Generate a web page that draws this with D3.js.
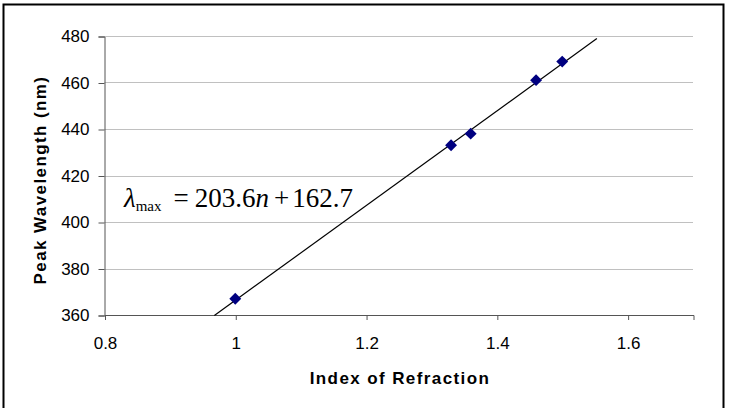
<!DOCTYPE html>
<html lang="en">
<head>
<meta charset="UTF-8">
<title>Peak Wavelength vs Index of Refraction</title>
<script src="https://d3js.org/d3.v7.min.js"></script>
<style>
    body { margin: 0; background: #fff; }
    .tick text { font-family: "Liberation Sans", Arial, sans-serif; font-size: 17px; fill: #000; }
    .axis-title { font-family: "Liberation Sans", Arial, sans-serif; font-size: 17px; font-weight: bold; letter-spacing: 1.4px; }
    .eq { font-family: "Liberation Serif", "Times New Roman", serif; fill: #000; }
</style>
</head>
<body>
<svg id="chart" width="736" height="408"></svg>
<script>
    // measured points (index of refraction, peak wavelength nm)
    const nValues = [1.0, 1.33, 1.36, 1.46, 1.5];
    const peakValues = [367, 433, 438, 461, 469];
    const xTicks = [0.8, 1, 1.2, 1.4, 1.6];
    const yTicks = [360, 380, 400, 420, 440, 460, 480];
    // trend line fit and the span it is drawn over
    const slope = 203.6, intercept = 162.7;
    const fitRange = [0.968, 1.553];

    const svg = d3.select("#chart");

    // outer frame
    svg.append("rect")
        .attr("x", 3.5).attr("y", 4.5)
        .attr("width", 720).attr("height", 420)
        .attr("fill", "none").attr("stroke", "#000").attr("stroke-width", 2);

    const x = d3.scaleLinear().domain([0.8, 1.7]).range([104.5, 693]);
    const y = d3.scaleLinear().domain([360, 480]).range([315, 36]);

    // gridlines
    svg.append("g")
        .selectAll("line")
        .data(yTicks.slice(1))
        .join("line")
        .attr("x1", x(0.8)).attr("x2", x(1.7))
        .attr("y1", d => Math.round(y(d)) + 0.5).attr("y2", d => Math.round(y(d)) + 0.5)
        .attr("stroke", "#c0c0c0");

    // y axis
    const yAxis = svg.append("g")
        .attr("transform", `translate(${x(0.8)},0.5)`)
        .call(d3.axisLeft(y).tickValues(yTicks).tickSize(6).tickPadding(9).tickFormat(d3.format("d")));
    yAxis.select(".domain").attr("stroke", "#555");
    yAxis.selectAll(".tick line").attr("stroke", "#555");

    // x axis
    const xAxis = svg.append("g")
        .attr("transform", `translate(0.5,${y(360)})`)
        .call(d3.axisBottom(x).tickValues(xTicks).tickSize(5).tickPadding(17).tickFormat(d => d));
    xAxis.select(".domain").attr("stroke", "#555");
    xAxis.selectAll(".tick line").attr("stroke", "#555");

    // trend line
    svg.append("line")
        .attr("x1", x(fitRange[0])).attr("y1", y(slope * fitRange[0] + intercept))
        .attr("x2", x(fitRange[1])).attr("y2", y(slope * fitRange[1] + intercept))
        .attr("stroke", "#000").attr("stroke-width", 1.2);

    // data markers (diamonds)
    svg.append("g")
        .selectAll("path")
        .data(nValues.map((n, i) => [n, peakValues[i]]))
        .join("path")
        .attr("transform", d => `translate(${x(d[0])},${y(d[1])})`)
        .attr("d", d3.symbol(d3.symbolDiamond2, 90))
        .attr("fill", "#000080");

    // axis titles
    svg.append("text")
        .attr("class", "axis-title")
        .attr("x", 400).attr("y", 384)
        .attr("text-anchor", "middle")
        .text("Index of Refraction");

    svg.append("text")
        .attr("class", "axis-title")
        .attr("transform", "translate(46,180) rotate(-90)")
        .attr("text-anchor", "middle")
        .text("Peak Wavelength (nm)");

    // fitted equation
    const eq = svg.append("text")
        .attr("class", "eq")
        .attr("x", 124).attr("y", 207)
        .attr("font-size", 27);
    eq.append("tspan").attr("font-style", "italic").text("λ");
    eq.append("tspan").attr("font-size", 15).attr("dy", 4).text("max");
    eq.append("tspan").attr("dy", -4).attr("dx", 12).text("=");
    eq.append("tspan").attr("dx", 6).text("203.6");
    eq.append("tspan").attr("font-style", "italic").text("n");
    eq.append("tspan").attr("dx", 5).text("+");
    eq.append("tspan").attr("dx", 3).text("162.7");
</script>
</body>
</html>
